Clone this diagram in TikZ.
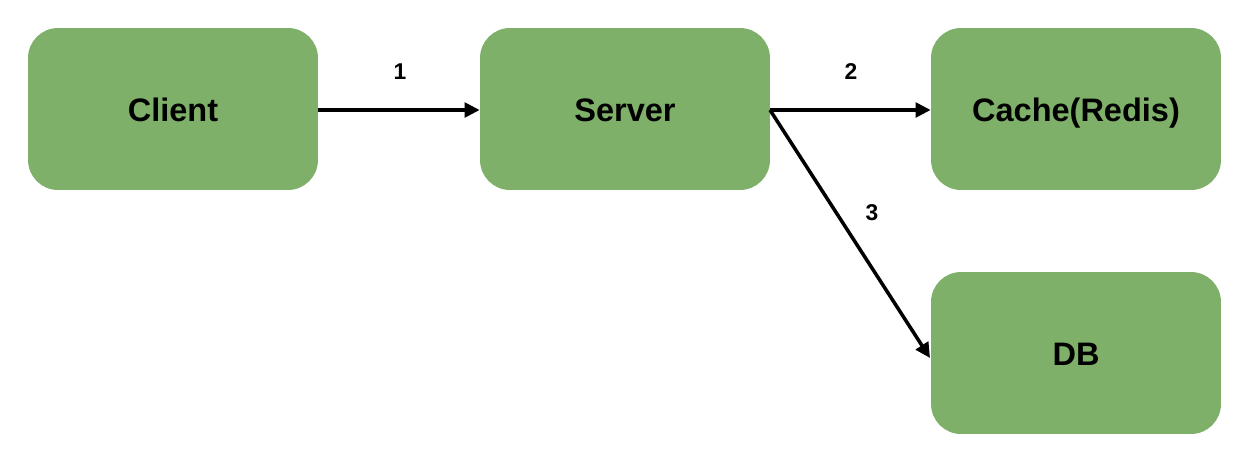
\documentclass[tikz,border=0pt]{standalone}
\usepackage{fontspec}
\setmainfont{Liberation Sans}
\usetikzlibrary{arrows.meta}
\definecolor{boxgreen}{RGB}{127,176,105}
\tikzset{
  box/.style={fill=boxgreen, draw=none, rounded corners=0.6cm, minimum width=5.8cm, minimum height=3.24cm, inner sep=0pt, text height=0.48cm, text depth=0pt, font=\bfseries\fontsize{18.5}{20}\selectfont},
  conn/.style={line width=2pt, -{Triangle[length=0.3cm,width=0.29cm]}},
  lbl/.style={font=\bfseries\fontsize{13}{15}\selectfont, inner sep=0pt}
}
\begin{document}
\begin{tikzpicture}[x=0.02cm,y=-0.02cm]
\useasboundingbox (0,0) rectangle (1254,464);
\node[box] (client) at (173,109) {Client};
\node[box] (server) at (625,109) {Server};
\node[box] (cache) at (1076,109) {Cache(Redis)};
\node[box] (db) at (1076,353) {DB};
\coordinate (s) at (770,110);
\draw[conn] (client.east |- 0,110) -- (server.west |- 0,110);
\draw[conn] (s) -- (cache.west |- 0,110);
\draw[conn] (s) -- (930,358) coordinate (dbend);
\node[lbl] (l1) at (400,72) {1};
\node[lbl] (l2) at (851,72) {2};
\node[lbl] (l3) at (872,213) {3};
\end{tikzpicture}
\end{document}
